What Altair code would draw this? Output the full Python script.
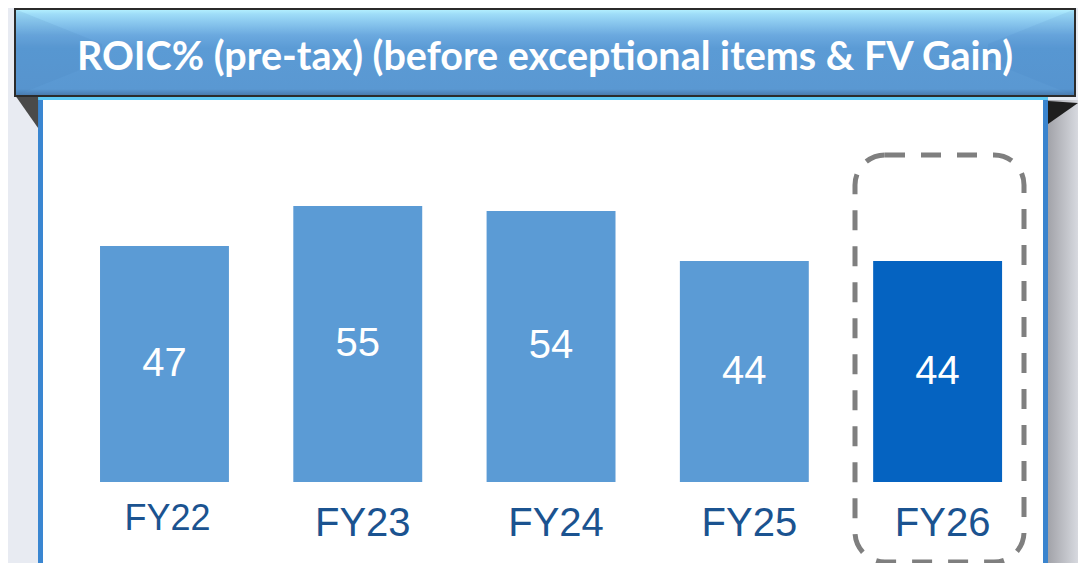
import altair as alt
import pandas as pd

categories = ["FY22", "FY23", "FY24", "FY25", "FY26"]
values = [47, 55, 54, 44, 44]
title_text = "ROIC% (pre-tax) (before exceptional items & FV Gain)"
highlight = "FY26"

df = pd.DataFrame({"cat": categories, "val": values})
one = pd.DataFrame({"k": [0]})

W, H = 1070, 555

x_enc = alt.X("cat:N", sort=categories, axis=None,
              scale=alt.Scale(range=[59.8, 1026.3], paddingInner=0.333, paddingOuter=0.1667))
y_scale = alt.Scale(domain=[0, 100], range=[474, -28])

# ---- decorative frame ----
panel_shadow = alt.Chart(one).mark_rect(
    fill={"gradient": "linear", "x1": 0, "y1": 0, "x2": 1, "y2": 0,
          "stops": [{"offset": 0, "color": "#A2A3A9"}, {"offset": 1, "color": "#D7D9DF"}]}
).encode(x=alt.value(1040), x2=alt.value(1070), y=alt.value(92), y2=alt.value(555))

panel = alt.Chart(one).mark_rect(fill="white").encode(
    x=alt.value(30), x2=alt.value(1040), y=alt.value(89), y2=alt.value(555))
panel_left = alt.Chart(one).mark_rect(fill="#3A86D1").encode(
    x=alt.value(30), x2=alt.value(35), y=alt.value(89), y2=alt.value(555))
panel_right = alt.Chart(one).mark_rect(fill="#3A84CE").encode(
    x=alt.value(1035), x2=alt.value(1040), y=alt.value(89), y2=alt.value(555))
panel_top = alt.Chart(one).mark_rect(fill="#5CC8F4").encode(
    x=alt.value(30), x2=alt.value(1040), y=alt.value(89), y2=alt.value(92))

fold_left = alt.Chart(one).mark_point(
    shape="M-0.68,-0.97L0.68,-0.97L0.68,0.97Z", filled=True, fill="#4A4A4A", opacity=1, size=1156
).encode(x=alt.value(18.5), y=alt.value(103.5))
fold_right = alt.Chart(one).mark_point(
    shape="M-1,-0.77L1,-0.63L-1,0.77Z", filled=True, fill="#1E1E1E", opacity=1, size=900
).encode(x=alt.value(1055), y=alt.value(104.5))

banner = alt.Chart(one).mark_rect(
    fill={"gradient": "linear", "x1": 0, "y1": 0, "x2": 0, "y2": 1,
          "stops": [{"offset": 0, "color": "#B6F2FF"},
                    {"offset": 0.06, "color": "#9EDCF8"},
                    {"offset": 0.3, "color": "#6BA9DF"},
                    {"offset": 0.45, "color": "#5B9BD5"},
                    {"offset": 0.92, "color": "#5A98D2"},
                    {"offset": 1, "color": "#4677AA"}]},
    stroke="#2B2B2B", strokeWidth=2
).encode(x=alt.value(7), x2=alt.value(1067), y=alt.value(1), y2=alt.value(88))

bevel_left = alt.Chart(one).mark_point(
    shape="M-1,-1L1,-0.2L1,0.2L-1,1Z", filled=True, fill="#3F78B8", opacity=0.12, size=86 * 86
).encode(x=alt.value(8 + 43), y=alt.value(44.5))
bevel_right = alt.Chart(one).mark_point(
    shape="M1,-1L-1,-0.2L-1,0.2L1,1Z", filled=True, fill="#3F78B8", opacity=0.1, size=86 * 86
).encode(x=alt.value(1066 - 43), y=alt.value(44.5))

title = alt.Chart(one).mark_text(
    text=title_text, font="Lato", fontWeight="bold", fontSize=39.5, color="white",
    align="center", baseline="middle"
).encode(x=alt.value(537), y=alt.value(50))

# ---- data marks ----
bars = alt.Chart(df).mark_bar().encode(
    x=x_enc,
    y=alt.Y("val:Q", scale=y_scale, axis=None),
    color=alt.condition(alt.datum.cat == highlight, alt.value("#0563C1"), alt.value("#5B9BD5")),
)

val_labels = alt.Chart(df).transform_calculate(mid="datum.val / 2").mark_text(
    font="Liberation Sans", fontSize=40, color="white", baseline="middle", align="center"
).encode(
    x=x_enc,
    y=alt.Y("mid:Q", scale=y_scale, axis=None),
    text=alt.Text("val:Q", format="d"),
)

cat_first = alt.Chart(df).transform_filter(alt.datum.cat == "FY22").transform_calculate(
    zero="0").mark_text(
    font="Liberation Sans", color="#1B5390", baseline="alphabetic", align="center",
    fontSize=36, dy=48, dx=3
).encode(
    x=x_enc,
    y=alt.Y("zero:Q", scale=y_scale, axis=None),
    text="cat:N",
)

cat_rest = alt.Chart(df).transform_filter(alt.datum.cat != "FY22").transform_calculate(
    zero="0").mark_text(
    font="Liberation Sans", color="#1B5390", baseline="alphabetic", align="center",
    fontSize=40, dy=54, dx=5
).encode(
    x=x_enc,
    y=alt.Y("zero:Q", scale=y_scale, axis=None),
    text="cat:N",
)

dash_box = alt.Chart(one).mark_rect(
    fillOpacity=0, stroke="#7F7F7F", strokeWidth=5, strokeDash=[20, 16], cornerRadius=30
).encode(x=alt.value(847), x2=alt.value(1016), y=alt.value(147), y2=alt.value(554))

chart = alt.layer(
    panel_shadow, panel, panel_left, panel_right, panel_top, fold_left, fold_right,
    banner, bevel_left, bevel_right, title,
    bars, val_labels, cat_first, cat_rest, dash_box
).properties(
    width=W, height=H, padding=0, background="#E8EBF2",
    autosize=alt.AutoSizeParams(type="fit", contains="padding")
).configure_view(strokeWidth=0)

chart.save("out.html", embed_options={"renderer": "svg", "actions": False})
